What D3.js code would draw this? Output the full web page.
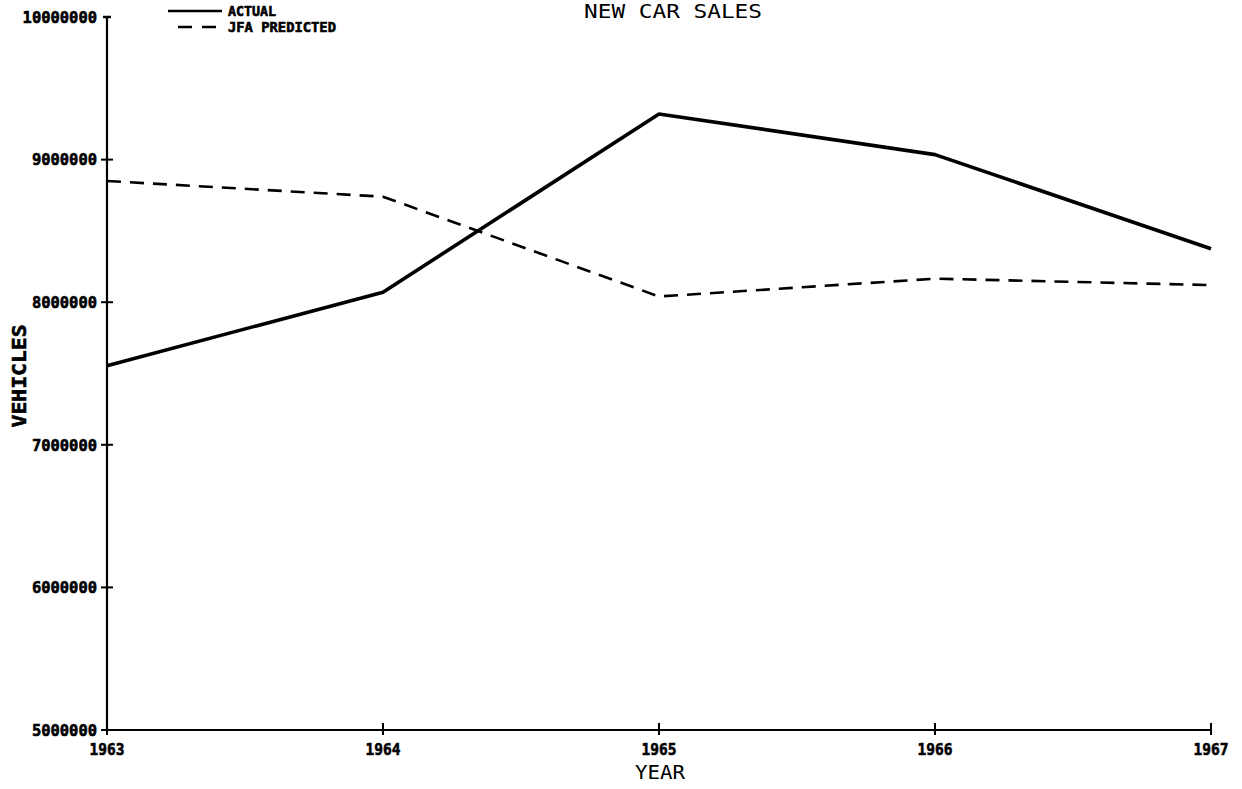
<!DOCTYPE html>
<html>
<head>
<meta charset="utf-8">
<script src="https://cdn.jsdelivr.net/npm/d3@7"></script>
<style>
  html, body { margin: 0; padding: 0; background: #fff; }
  svg { display: block; }
  text { font-family: "DejaVu Sans Mono", monospace; fill: #000; }
  .heavy { stroke: #000; stroke-width: 0.6px; }
</style>
</head>
<body>
<svg id="chart" width="1242" height="789"></svg>
<script>
const years = [1963, 1964, 1965, 1966, 1967];
const actual = [7555000, 8070000, 9320000, 9035000, 8375000];
const predicted = [8850000, 8740000, 8040000, 8165000, 8120000];
const yTicks = [5000000, 6000000, 7000000, 8000000, 9000000, 10000000];
const xTickLabels = ["1963", "1964", "1965", "1966", "1967"];
const seriesNames = ["ACTUAL", "JFA PREDICTED"];
const title = "NEW CAR SALES";
const xTitle = "YEAR";
const yTitle = "VEHICLES";

const svg = d3.select("#chart");
const x = d3.scaleLinear().domain([1963, 1967]).range([107, 1211]);
const y = d3.scaleLinear().domain([5000000, 10000000]).range([730, 17]);

// axes lines
svg.append("line").attr("x1", x(1963)).attr("x2", x(1967))
  .attr("y1", y(5000000)).attr("y2", y(5000000))
  .attr("stroke", "#000").attr("stroke-width", 2.2);
svg.append("line").attr("x1", x(1963)).attr("x2", x(1963))
  .attr("y1", y(5000000)).attr("y2", y(10000000))
  .attr("stroke", "#000").attr("stroke-width", 2.2);

// y ticks (crosses)
const yAxisG = svg.append("g");
yTicks.forEach((t) => {
  const yy = y(t);
  if (t === 10000000) {
    yAxisG.append("line").attr("x1", x(1963) - 4).attr("x2", x(1963) + 4)
      .attr("y1", yy).attr("y2", yy).attr("stroke", "#000").attr("stroke-width", 2.5);
  } else {
    yAxisG.append("line").attr("x1", x(1963) - 6).attr("x2", x(1963) + 6)
      .attr("y1", yy).attr("y2", yy).attr("stroke", "#000").attr("stroke-width", 2);
  }
  yAxisG.append("text").attr("class", "heavy").attr("x", x(1963) - 10).attr("y", yy)
    .attr("dy", "0.36em").attr("text-anchor", "end")
    .attr("font-size", 16).attr("font-weight", "bold")
    .attr("textLength", 9.3 * String(t).length).attr("lengthAdjust", "spacingAndGlyphs")
    .text(t);
});

// x ticks
const xAxisG = svg.append("g");
years.forEach((yr, i) => {
  const xx = x(yr);
  xAxisG.append("line").attr("x1", xx).attr("x2", xx)
    .attr("y1", y(5000000) - 7).attr("y2", y(5000000) + 5)
    .attr("stroke", "#000").attr("stroke-width", 2);
  xAxisG.append("text").attr("class", "heavy").attr("x", xx).attr("y", 755)
    .attr("text-anchor", "middle")
    .attr("font-size", 16).attr("font-weight", "bold")
    .attr("textLength", 35).attr("lengthAdjust", "spacingAndGlyphs")
    .text(xTickLabels[i]);
});

// lines
const line = d3.line().x((d, i) => x(years[i])).y(d => y(d));
svg.append("path").datum(actual).attr("d", line)
  .attr("fill", "none").attr("stroke", "#000").attr("stroke-width", 3.6)
  .attr("stroke-linejoin", "round");
svg.append("path").datum(predicted).attr("d", line)
  .attr("fill", "none").attr("stroke", "#000").attr("stroke-width", 2.6)
  .attr("stroke-dasharray", "14,9");

// title
svg.append("text").attr("x", 673).attr("y", 18).attr("text-anchor", "middle")
  .attr("font-size", 19)
  .attr("textLength", 178).attr("lengthAdjust", "spacingAndGlyphs")
  .text(title);

// axis titles
svg.append("text").attr("x", 660).attr("y", 779).attr("text-anchor", "middle")
  .attr("font-size", 20)
  .attr("textLength", 50).attr("lengthAdjust", "spacingAndGlyphs")
  .text(xTitle);
svg.append("text").attr("class", "heavy").attr("transform", "translate(26,376) rotate(-90)")
  .attr("text-anchor", "middle")
  .attr("font-size", 20).attr("font-weight", "bold")
  .attr("textLength", 103).attr("lengthAdjust", "spacingAndGlyphs")
  .text(yTitle);

// legend
const leg = svg.append("g");
leg.append("line").attr("x1", 168).attr("x2", 222).attr("y1", 11).attr("y2", 11)
  .attr("stroke", "#000").attr("stroke-width", 2.6);
leg.append("line").attr("x1", 178).attr("x2", 222).attr("y1", 27).attr("y2", 27)
  .attr("stroke", "#000").attr("stroke-width", 2.6).attr("stroke-dasharray", "14,10");
leg.append("text").attr("class", "heavy").attr("x", 228).attr("y", 16).attr("font-size", 13.5).attr("font-weight", "bold")
  .attr("textLength", 48).attr("lengthAdjust", "spacingAndGlyphs")
  .text(seriesNames[0]);
leg.append("text").attr("class", "heavy").attr("x", 228).attr("y", 32).attr("font-size", 13.5).attr("font-weight", "bold")
  .attr("textLength", 108).attr("lengthAdjust", "spacingAndGlyphs")
  .text(seriesNames[1]);
</script>
</body>
</html>
